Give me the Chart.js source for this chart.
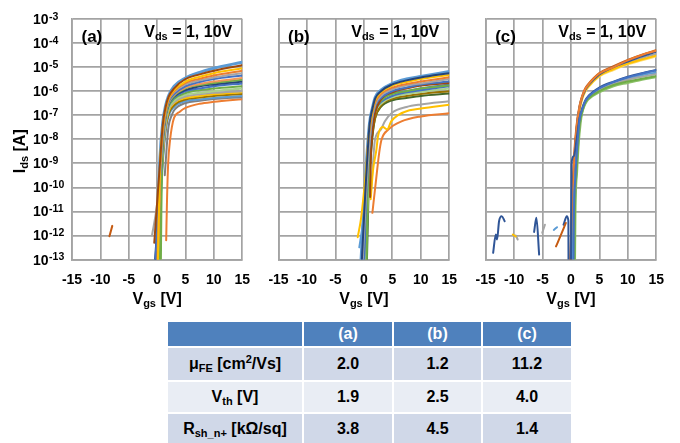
<!DOCTYPE html>
<html><head><meta charset="utf-8">
<script src="https://cdn.jsdelivr.net/npm/chart.js@4/dist/chart.umd.min.js"></script>
<style>
html,body{margin:0;padding:0;background:#fff;}
body{width:680px;height:443px;position:relative;overflow:hidden;font-family:'Liberation Sans',Arial,sans-serif;}
.pane{position:absolute;top:0;width:262px;height:310px;}
#tbl{position:absolute;left:168px;top:321.5px;display:grid;grid-template-columns:134px 88px 87px 88px;grid-template-rows:24.5px 31.5px 30.5px 30px;column-gap:2px;row-gap:2px;}
.c{display:flex;align-items:center;justify-content:center;font-weight:bold;font-size:16px;color:#000;white-space:nowrap;}
.h{background:#4F81BD;color:#fff;}
.r1{background:#D0D8E8;} .r2{background:#E9EDF4;}
sub{font-size:11px;vertical-align:-3px;line-height:0;}
sup{font-size:11px;vertical-align:6px;line-height:0;}
</style></head>
<body>
<div class="pane" style="left:0px"><canvas id="ca" width="262" height="310"></canvas></div>
<div class="pane" style="left:207px"><canvas id="cb" width="262" height="310"></canvas></div>
<div class="pane" style="left:414px"><canvas id="cc" width="262" height="310"></canvas></div>
<div id="tbl"></div>
<script>
// ---------------- data ----------------
const xTickValues = [-15, -10, -5, 0, 5, 10, 15];
const yTickValues = [1e-13, 1e-12, 1e-11, 1e-10, 1e-9, 1e-8, 1e-7, 1e-6, 1e-5, 1e-4, 1e-3];
const yTickExponents = ['-13', '-12', '-11', '-10', '-9', '-8', '-7', '-6', '-5', '-4', '-3'];
const panelLetters = ['(a)', '(b)', '(c)'];
const vdsLabel = ['V', 'ds', ' = 1, 10V'];
const xTitle = ['V', 'gs', ' [V]'];
const yTitle = ['I', 'ds', ' [A]'];

// Panel (a): each curve = list of [Vgs, Ids]
const curvesA = [
 [[-0.2,3.2e-14],[0.5,1.6e-9],[1,5.0e-8],[1.5,2.5e-7],[2,6.3e-7],[3,1.6e-6],[5,3.5e-6],[7.5,6.0e-6],[10,8.9e-6],[15,1.6e-5]],
 [[-0.5,5.0e-13],[0.5,1.0e-9],[1,4.0e-8],[1.5,2.2e-7],[2,5.6e-7],[3,1.3e-6],[5,3.2e-6],[7.5,5.0e-6],[10,7.1e-6],[15,1.2e-5]],
 [[0.1,3.2e-14],[0.5,6.3e-10],[1,3.2e-8],[1.5,1.8e-7],[2,5.0e-7],[3,1.1e-6],[5,2.5e-6],[7.5,4.0e-6],[10,5.6e-6],[15,8.9e-6]],
 [[0.0,3.2e-14],[0.5,4.0e-10],[1,2.5e-8],[1.5,1.6e-7],[2,4.5e-7],[3,1.0e-6],[5,2.2e-6],[7.5,3.3e-6],[10,4.5e-6],[15,7.1e-6]],
 [[-0.9,1.0e-12],[-0.05,1.6e-11],[0.5,3.2e-10],[1,2.0e-8],[1.5,1.4e-7],[2,4.0e-7],[3,8.9e-7],[5,1.9e-6],[7.5,2.8e-6],[10,3.7e-6],[15,5.6e-6]],
 [[-0.4,3.2e-14],[0.5,2.0e-10],[1,1.6e-8],[1.5,1.3e-7],[2,3.5e-7],[3,7.6e-7],[5,1.6e-6],[7.5,2.4e-6],[10,3.2e-6],[15,4.5e-6]],
 [[0.1,3.2e-14],[0.5,1.6e-10],[1,1.3e-8],[1.5,1.1e-7],[2,3.2e-7],[3,7.1e-7],[5,1.4e-6],[7.5,2.0e-6],[10,2.5e-6],[15,3.5e-6]],
 [[0.4,3.2e-14],[0.6,3.2e-11],[1,1.0e-8],[1.5,1.0e-7],[2,2.8e-7],[3,6.3e-7],[5,1.3e-6],[7.5,1.8e-6],[10,2.2e-6],[15,3.0e-6]],
 [[-0.5,3.2e-14],[0.5,1.0e-10],[1,1.0e-8],[1.5,1.0e-7],[2,2.8e-7],[3,6.0e-7],[5,1.1e-6],[7.5,1.6e-6],[10,1.9e-6],[15,2.5e-6]],
 [[-0.3,3.2e-14],[0.5,6.3e-11],[1,7.9e-9],[1.5,8.9e-8],[2,2.5e-7],[3,5.4e-7],[5,1.0e-6],[7.5,1.3e-6],[10,1.6e-6],[15,2.1e-6]],
 [[0.65,3.2e-14],[0.75,1.0e-11],[1,4.0e-9],[1.5,7.1e-8],[2,2.2e-7],[3,4.8e-7],[5,8.3e-7],[7.5,1.1e-6],[10,1.3e-6],[15,1.6e-6]],
 [[0.2,3.2e-14],[0.5,6.3e-11],[1,5.0e-9],[1.5,6.3e-8],[2,1.9e-7],[3,4.0e-7],[5,7.1e-7],[7.5,8.5e-7],[10,1.0e-6],[15,1.3e-6]],
 [[-0.2,3.2e-14],[0.5,3.2e-11],[1,2.5e-9],[1.5,4.0e-8],[2,1.6e-7],[3,3.5e-7],[5,6.0e-7],[7.5,7.4e-7],[10,8.5e-7],[15,1.0e-6]],
 [[0.0,3.2e-14],[0.5,2.5e-11],[1,2.5e-9],[1.5,4.0e-8],[2,1.4e-7],[3,3.2e-7],[5,5.2e-7],[7.5,6.3e-7],[10,7.4e-7],[15,8.9e-7]],
 [[0.1,3.2e-14],[0.5,1.6e-11],[1,1.6e-9],[1.5,2.8e-8],[2,1.1e-7],[3,2.6e-7],[5,4.5e-7],[7.5,5.4e-7],[10,6.3e-7],[15,7.6e-7]],
 [[-0.3,3.2e-14],[0.5,1.0e-11],[1,1.0e-9],[1.5,2.0e-8],[2,8.9e-8],[3,2.2e-7],[5,3.8e-7],[7.5,4.5e-7],[10,5.2e-7],[15,6.3e-7]],
 [[1.35,3.2e-10],[1.5,1.0e-9],[1.7,5.0e-9],[2,3.2e-8],[2.5,8.9e-8],[3,1.6e-7],[5,3.2e-7],[7.5,4.0e-7],[10,4.7e-7],[15,5.6e-7]],
 [[1.6,6.3e-13],[1.75,3.2e-11],[1.95,1.0e-9],[2.3,1.0e-8],[2.6,3.2e-8],[3,7.9e-8],[4,1.4e-7],[5,2.0e-7],[7.5,3.0e-7],[10,3.6e-7],[15,4.6e-7]],
 [[-8.4,9.3e-13],[-7.9,2.5e-12]]
];

// Panel (b)
const curvesB = [
 [[-0.6,3.2e-14],[0.2,1.0e-10],[0.5,1.6e-9],[1,4.7e-8],[1.5,2.0e-7],[2,5.6e-7],[3,1.1e-6],[5,2.1e-6],[7.5,3.2e-6],[10,4.1e-6],[15,6.5e-6]],
 [[-0.45,3.2e-14],[0.3,1.0e-10],[0.6,1.6e-9],[1,4.0e-8],[1.5,1.8e-7],[2,5.0e-7],[3,1.0e-6],[5,1.9e-6],[7.5,2.8e-6],[10,3.7e-6],[15,5.6e-6]],
 [[-1.08,8.5e-13],[-0.5,5.0e-12],[0.3,3.2e-10],[0.7,5.0e-9],[1,3.2e-8],[1.5,1.5e-7],[2,4.2e-7],[3,8.9e-7],[5,1.7e-6],[7.5,2.4e-6],[10,3.2e-6],[15,4.7e-6]],
 [[0.5,1.0e-9],[0.8,1.0e-8],[1.2,5.0e-8],[1.5,1.3e-7],[2,3.5e-7],[3,7.6e-7],[5,1.4e-6],[7.5,2.0e-6],[10,2.5e-6],[15,3.8e-6]],
 [[-0.3,3.2e-14],[0.4,6.3e-11],[0.8,2.0e-9],[1.2,2.5e-8],[1.5,8.9e-8],[2,2.8e-7],[3,6.3e-7],[5,1.2e-6],[7.5,1.7e-6],[10,2.1e-6],[15,3.2e-6]],
 [[-0.2,3.2e-14],[0.4,3.2e-11],[0.8,1.6e-9],[1.2,2.0e-8],[1.5,7.9e-8],[2,2.5e-7],[3,5.2e-7],[5,1.0e-6],[7.5,1.4e-6],[10,1.9e-6],[15,2.5e-6]],
 [[1.1,4.0e-11],[1.2,1.0e-9],[1.4,1.0e-8],[1.7,5.0e-8],[2,1.3e-7],[3,4.5e-7],[5,8.9e-7],[7.5,1.3e-6],[10,1.7e-6],[15,2.2e-6]],
 [[0.5,3.2e-14],[0.6,1.0e-11],[0.9,1.0e-9],[1.3,1.6e-8],[1.7,7.9e-8],[2,1.6e-7],[3,4.0e-7],[5,7.6e-7],[7.5,1.0e-6],[10,1.3e-6],[15,1.7e-6]],
 [[0.0,3.2e-14],[0.5,3.2e-11],[1,3.2e-9],[1.5,5.0e-8],[2,1.6e-7],[3,3.5e-7],[5,6.3e-7],[7.5,8.9e-7],[10,1.1e-6],[15,1.6e-6]],
 [[0.3,3.2e-14],[0.7,3.2e-11],[1.1,2.5e-9],[1.5,3.5e-8],[2,1.3e-7],[3,3.0e-7],[5,5.6e-7],[7.5,7.6e-7],[10,9.3e-7],[15,1.3e-6]],
 [[1.2,3.2e-11],[1.6,5.0e-10],[2.2,3.6e-9],[2.5,1.4e-8],[3.35,3.2e-8],[4.1,2.6e-8],[4.8,5.5e-8],[6,1.0e-7],[8,1.6e-7],[10,1.9e-7],[15,2.7e-7]],
 [[1.3,1.0e-10],[1.6,1.0e-9],[1.95,9.5e-9],[2.98,2.5e-8],[3.67,5.5e-8],[5,1.3e-7],[7.5,2.2e-7],[10,2.8e-7],[15,3.8e-7]],
 [[1.5,8.7e-12],[2.15,2.1e-10],[2.7,2.8e-9],[3.1,9.5e-9],[4.3,2.5e-8],[6.6,5.5e-8],[10,8.9e-8],[15,1.2e-7]],
 [[0.2,3.2e-14],[0.6,1.0e-11],[1,1.0e-9],[1.5,1.6e-8],[2,7.9e-8],[3,2.5e-7],[5,4.8e-7],[7.5,6.3e-7],[10,7.6e-7],[15,1.0e-6]],
 [[-0.8,3.2e-13],[-0.2,3.2e-12],[0.3,1.0e-10],[0.8,3.2e-9],[1.2,3.2e-8],[1.5,1.0e-7],[2,2.8e-7],[3,6.0e-7],[5,1.0e-6],[7.5,1.4e-6],[10,1.8e-6],[15,2.4e-6]],
 [[-0.45,3.2e-14],[0.4,1.6e-11],[0.9,1.6e-9],[1.3,2.5e-8],[1.7,1.0e-7],[2,1.8e-7],[3,4.5e-7],[5,7.9e-7],[7.5,1.0e-6],[10,1.3e-6],[15,1.9e-6]],
 [[0.5,3.2e-14],[0.8,3.2e-11],[1.2,1.6e-9],[1.6,2.0e-8],[2,7.9e-8],[3,2.2e-7],[5,4.2e-7],[7.5,5.2e-7],[10,6.3e-7],[15,7.9e-7]]
];

// Panel (c)
const curvesC = [
 [[-13.69,1.9e-13],[-13.22,1.1e-12],[-13.0,6.8e-13],[-12.65,3.9e-12],[-12.18,6.3e-12],[-11.66,3.9e-12]],
 [[-10.23,1.1e-12],[-9.7,9.0e-13]],
 [[-9.7,1.0e-12],[-9.37,6.8e-13]],
 [[-6.48,1.4e-12],[-6.08,5.4e-12],[-5.6,1.6e-13]],
 [[-5.05,1.3e-12],[-4.58,2.8e-12]],
 [[-3.02,1.7e-12],[-2.45,2.2e-12]],
 [[-2.63,3.5e-13],[-1.8,1.0e-12],[-0.9,3.3e-12]],
 [[-1.3,2.8e-12],[-0.73,6.3e-12],[-0.45,4.0e-12],[-0.43,3.2e-14]],
 [[0.43,3.2e-14],[0.5,3.2e-12],[0.8,3.2e-10],[1.2,1.0e-8],[1.5,6.3e-8],[2,1.8e-7],[2.5,3.8e-7],[3,5.6e-7],[5,1.3e-6],[7.5,2.4e-6],[10,3.8e-6],[12.5,5.4e-6],[15,7.4e-6]],
 [[0.0,3.2e-14],[0.1,1.0e-9],[0.5,2.0e-9],[1.0,1.0e-8],[1.5,7.1e-8],[2,2.0e-7],[2.5,4.0e-7],[3,6.0e-7],[5,1.4e-6],[7.5,2.5e-6],[10,4.0e-6],[12.5,5.6e-6],[15,7.6e-6]],
 [[0.6,3.2e-14],[0.7,1.0e-11],[1.0,5.0e-10],[1.3,7.9e-9],[1.6,5.0e-8],[2,1.4e-7],[2.5,3.2e-7],[3,4.8e-7],[5,1.0e-6],[7.5,1.8e-6],[10,2.5e-6],[12.5,3.3e-6],[15,4.2e-6]],
 [[0.5,3.2e-14],[0.65,1.0e-11],[0.95,6.3e-10],[1.3,1.0e-8],[1.6,5.6e-8],[2,1.6e-7],[2.5,3.4e-7],[3,5.2e-7],[5,1.1e-6],[7.5,2.0e-6],[10,3.0e-6],[12.5,4.0e-6],[15,5.0e-6]],
 [[0.3,3.2e-14],[0.5,1.0e-11],[0.85,6.3e-10],[1.2,1.0e-8],[1.55,6.3e-8],[2,1.7e-7],[2.5,3.5e-7],[3,5.4e-7],[5,1.2e-6],[7.5,2.2e-6],[10,3.3e-6],[12.5,4.6e-6],[15,6.0e-6]],
 [[0.7,3.2e-14],[0.8,1.0e-11],[1.1,5.0e-10],[1.4,7.9e-9],[1.7,4.5e-8],[2,1.3e-7],[2.5,2.8e-7],[3,4.4e-7],[5,8.9e-7],[7.5,1.6e-6],[10,2.2e-6],[12.5,3.0e-6],[15,3.8e-6]],
 [[0.0,3.2e-14],[0.3,3.2e-11],[0.6,2.0e-9],[1,3.2e-8],[1.5,2.2e-7],[2,6.3e-7],[2.5,1.2e-6],[3,1.8e-6],[5,5.4e-6],[7.5,1.0e-5],[10,1.9e-5],[12.5,3.2e-5],[15,4.8e-5]],
 [[0.1,3.2e-14],[0.35,3.2e-11],[0.65,2.0e-9],[1,2.8e-8],[1.5,2.1e-7],[2,5.9e-7],[2.5,1.1e-6],[3,1.7e-6],[5,5.0e-6],[7.5,1.0e-5],[10,1.7e-5],[12.5,2.8e-5],[15,4.3e-5]],
 [[0.3,3.2e-14],[0.5,3.2e-11],[0.8,1.6e-9],[1.1,2.5e-8],[1.5,1.8e-7],[2,5.2e-7],[2.5,1.0e-6],[3,1.5e-6],[5,4.4e-6],[7.5,8.3e-6],[10,1.4e-5],[12.5,2.1e-5],[15,3.0e-5]],
 [[0.2,3.2e-14],[0.45,3.2e-11],[0.75,1.6e-9],[1.05,2.5e-8],[1.5,1.9e-7],[2,5.6e-7],[2.5,1.1e-6],[3,1.6e-6],[5,4.7e-6],[7.5,9.1e-6],[10,1.5e-5],[12.5,2.4e-5],[15,3.5e-5]],
 [[0.4,3.2e-14],[0.6,3.2e-11],[0.9,1.6e-9],[1.2,2.5e-8],[1.6,1.8e-7],[2,4.8e-7],[2.5,9.3e-7],[3,1.4e-6],[5,4.1e-6],[7.5,7.6e-6],[10,1.3e-5],[12.5,1.9e-5],[15,2.8e-5]],
 [[-0.2,3.2e-14],[0.2,3.2e-11],[0.55,2.0e-9],[0.95,3.2e-8],[1.5,2.4e-7],[2,6.6e-7],[2.5,1.3e-6],[3,1.9e-6],[5,5.6e-6],[7.5,1.1e-5],[10,2.0e-5],[12.5,3.3e-5],[15,5.0e-5]]
];

// Table
const tableHeader = ['', '(a)', '(b)', '(c)'];
const tableRowLabels = ['μ<sub>FE</sub> [cm<sup>2</sup>/Vs]', 'V<sub>th</sub> [V]', 'R<sub>sh_n+</sub> [kΩ/sq]'];
const tableValues = [['2.0', '1.2', '11.2'], ['1.9', '2.5', '4.0'], ['3.8', '4.5', '1.4']];

// ---------------- styles ----------------
const colorsA = ['#5B9BD5','#9E480E','#FFC000','#ED7D31','#A5A5A5','#4472C4','#F1975A','#70AD47','#264478','#4472C4','#70AD47','#A9D18E','#A5A5A5','#FFC000','#997300','#5B9BD5','#7F7F7F','#ED7D31','#C55A11'];
const colorsB = ['#5B9BD5','#264478','#FFC000','#ED7D31','#A5A5A5','#4472C4','#9E480E','#70AD47','#4472C4','#A9D18E','#FFC000','#A5A5A5','#ED7D31','#997300','#5B9BD5','#4472C4','#43682B'];
const colorsC = ['#2F5597','#FFC000','#A5A5A5','#2F5597','#A5A5A5','#5B9BD5','#C55A11','#2F5597','#4472C4','#2F5597','#70AD47','#A5A5A5','#5B9BD5','#8CC168','#ED7D31','#2F5597','#FFC000','#A5A5A5','#FFD966','#C55A11'];
const FONT = "'Liberation Sans', Arial, sans-serif";
const GRID = '#a3a3a3';
const geoms = [
  {id:'ca', yw:72, right:16.7},
  {id:'cb', yw:71.5, right:17},
  {id:'cc', yw:71.7, right:16.7}
];

Chart.defaults.font.family = FONT;

function richWidth(ctx, parts){ let w=0; parts.forEach(p=>{ctx.font='bold '+p.s+'px '+FONT; w+=ctx.measureText(p.t).width;}); return w; }
function drawRich(ctx, parts, x, y){ parts.forEach(p=>{ctx.font='bold '+p.s+'px '+FONT; ctx.fillText(p.t, x, y+(p.dy||0)); x+=ctx.measureText(p.t).width;}); }

const panelText = {
  id:'panelText',
  afterDraw(chart, args, opts){
    const ctx = chart.ctx, a = chart.chartArea;
    ctx.save();
    ctx.fillStyle = '#000'; ctx.textBaseline = 'alphabetic'; ctx.textAlign = 'left';
    ctx.font = 'bold 17px ' + FONT;
    ctx.fillText(opts.letter, a.left + 9.5, a.top + 22.5);
    const vds = [{t:vdsLabel[0],s:16},{t:vdsLabel[1],s:11,dy:3},{t:vdsLabel[2],s:16}];
    drawRich(ctx, vds, a.right - 10 - richWidth(ctx, vds), a.top + 17.5);
    const xt = [{t:xTitle[0],s:16},{t:xTitle[1],s:11,dy:3},{t:xTitle[2],s:16}];
    drawRich(ctx, xt, (a.left + a.right)/2 - richWidth(ctx, xt)/2, a.bottom + 44);
    if (opts.showY) {
      const ys = chart.scales.y;
      yTickValues.forEach((v, i) => {
        const py = ys.getPixelForValue(v);
        ctx.font = 'bold 14px ' + FONT;
        ctx.fillText('10', 33, py + 5);
        const w = ctx.measureText('10').width;
        ctx.font = 'bold 10.5px ' + FONT;
        ctx.fillText(yTickExponents[i], 33 + w + 0.5, py + 0.5);
      });
      ctx.translate(25, (a.top + a.bottom)/2 + 12);
      ctx.rotate(-Math.PI/2);
      const yt = [{t:yTitle[0],s:16},{t:yTitle[1],s:11,dy:3},{t:yTitle[2],s:16}];
      drawRich(ctx, yt, -richWidth(ctx, yt)/2, 0);
    }
    ctx.restore();
  }
};

function makePanel(idx, curves, colors){
  const g = geoms[idx];
  const datasets = curves.map((c, i) => ({
    data: c.map(p => ({x:p[0], y:p[1]})),
    borderColor: colors[i],
    borderWidth: (idx < 2 && i === 0) ? 3 : 2,
    pointRadius: 0,
    fill: false,
    cubicInterpolationMode: 'monotone',
    borderCapStyle: 'round',
    borderJoinStyle: 'round'
  }));
  if (idx < 2) datasets.push(datasets.shift());
  new Chart(document.getElementById(g.id), {
    type: 'line',
    data: {datasets},
    options: {
      responsive: false, animation: false, devicePixelRatio: 1,
      layout: {padding: {top: 19, right: g.right, left: 0, bottom: 0}},
      plugins: {legend: {display: false}, tooltip: {enabled: false},
                panelText: {letter: panelLetters[idx], showY: idx === 0}},
      scales: {
        x: {type: 'linear', min: -15, max: 15,
            afterBuildTicks: s => { s.ticks = xTickValues.map(v => ({value: v})); },
            afterFit: s => { s.height = 50.5; },
            grid: {color: GRID, lineWidth: 1.7, drawTicks: false},
            border: {color: GRID, width: 1.7},
            ticks: {font: {size: 14, weight: 'bold', family: FONT}, color: '#000', padding: 12, maxRotation: 0, autoSkip: false}},
        y: {type: 'logarithmic', min: 1e-13, max: 1e-3,
            afterBuildTicks: s => { s.ticks = yTickValues.map(v => ({value: v})); },
            afterFit: s => { s.width = g.yw; },
            grid: {color: GRID, lineWidth: 1.7, drawTicks: false},
            border: {color: GRID, width: 1.7},
            ticks: {display: false}}
      }
    },
    plugins: [panelText]
  });
}

makePanel(0, curvesA, colorsA);
makePanel(1, curvesB, colorsB);
makePanel(2, curvesC, colorsC);

// table
const tbl = document.getElementById('tbl');
tableHeader.forEach(t => { const d = document.createElement('div'); d.className = 'c h'; const s = document.createElement('span'); s.textContent = t; d.appendChild(s); tbl.appendChild(d); });
tableRowLabels.forEach((lab, r) => {
  const cls = 'c ' + (r === 1 ? 'r2' : 'r1');
  const d = document.createElement('div'); d.className = cls;
  const s = document.createElement('span'); s.innerHTML = lab; d.appendChild(s); tbl.appendChild(d);
  tableValues[r].forEach(v => { const e = document.createElement('div'); e.className = cls; const sp = document.createElement('span'); sp.textContent = v; e.appendChild(sp); tbl.appendChild(e); });
});
</script>
</body></html>
